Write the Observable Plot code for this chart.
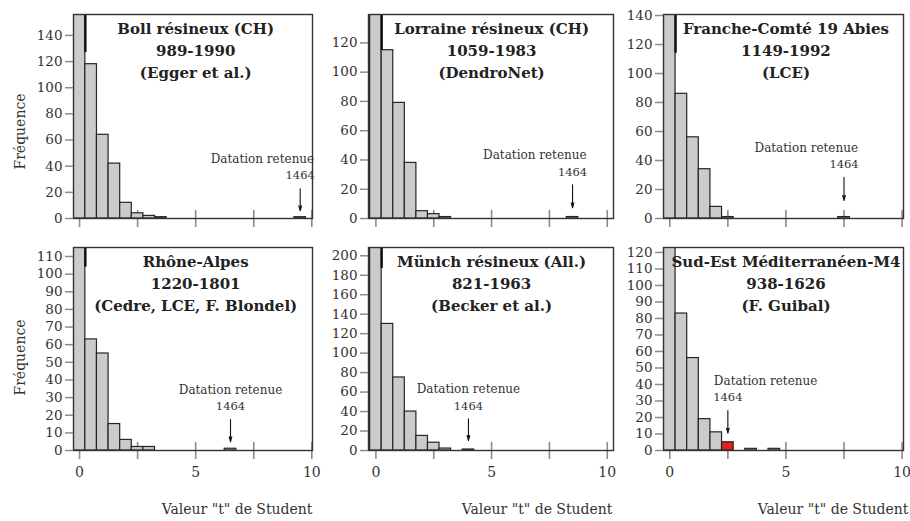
<!DOCTYPE html>
<html><head><meta charset="utf-8">
<script src="https://cdn.jsdelivr.net/npm/d3@7"></script>
<script src="https://cdn.jsdelivr.net/npm/@observablehq/plot@0.6"></script>
<style>
body{margin:0;background:#fff;}
#chart{position:relative;width:910px;height:521px;overflow:hidden;font-family:"DejaVu Serif",serif;}
#chart svg{position:absolute;overflow:visible;}
</style></head><body><div id="chart"></div>
<script>
// ---- data ----
const panelNames = ["Boll résineux (CH)", "Lorraine résineux (CH)", "Franche-Comté 19 Abies", "Rhône-Alpes", "Münich résineux (All.)", "Sud-Est Méditerranéen-M4"];
const panelPeriods = ["989-1990", "1059-1983", "1149-1992", "1220-1801", "821-1963", "938-1626"];
const panelSources = ["(Egger et al.)", "(DendroNet)", "(LCE)", "(Cedre, LCE, F. Blondel)", "(Becker et al.)", "(F. Guibal)"];
// bin centres (Student t), bin width 0.5
const binCenters = [0, 0.5, 1, 1.5, 2, 2.5, 3, 3.5, 4, 4.5, 5, 5.5, 6, 6.5, 7, 7.5, 8, 8.5, 9, 9.5, 10];
const countsBoll      = [390, 118, 64, 42, 12, 4, 2, 1, 0, 0, 0, 0, 0, 0, 0, 0, 0, 0, 0, 1, 0];
const countsLorraine  = [300, 115, 79, 38, 5, 3, 1, 0, 0, 0, 0, 0, 0, 0, 0, 0, 0, 1, 0, 0, 0];
const countsFranche   = [250, 86, 56, 34, 8, 1, 0, 0, 0, 0, 0, 0, 0, 0, 0, 1, 0, 0, 0, 0, 0];
const countsRhone     = [205, 63, 55, 15, 6, 2, 2, 0, 0, 0, 0, 0, 0, 1, 0, 0, 0, 0, 0, 0, 0];
const countsMunich    = [440, 130, 75, 40, 15, 8, 2, 0, 1, 0, 0, 0, 0, 0, 0, 0, 0, 0, 0, 0, 0];
const countsSudEst    = [150, 83, 56, 19, 11, 5, 0, 1, 0, 1, 0, 0, 0, 0, 0, 0, 0, 0, 0, 0, 0];
const allCounts = [countsBoll, countsLorraine, countsFranche, countsRhone, countsMunich, countsSudEst];
// t value of the retained dating (1464) in each panel
const retainedT = [9.5, 8.5, 7.5, 6.5, 4, 2.5];
const retainedLabel = "Datation retenue";
const retainedYear = "1464";
const highlightedPanel = 5; // the retained bar is drawn in red there
// axis ticks
const yTicks = [
  [0, 20, 40, 60, 80, 100, 120, 140],
  [0, 20, 40, 60, 80, 100, 120],
  [0, 20, 40, 60, 80, 100, 120, 140],
  [0, 10, 20, 30, 40, 50, 60, 70, 80, 90, 100, 110],
  [0, 20, 40, 60, 80, 100, 120, 140, 160, 180, 200],
  [0, 10, 20, 30, 40, 50, 60, 70, 80, 90, 100, 110, 120]
];
const xTicks = [0, 2.5, 5, 7.5, 10];
const xTickLabels = [0, 5, 10];
const yLabel = "Fréquence";
const xLabel = 'Valeur "t" de Student';

// ---- layout / annotation config ----
const cols = [
  {left: 0, width: 320, ml: 73, mr: 8, xd: [-0.26, 10.03], xlabDx: 0},
  {left: 320, width: 300, ml: 48, mr: 7, xd: [-0.32, 10.27], xlabDx: -1},
  {left: 620, width: 290, ml: 43, mr: 7, xd: [-0.27, 10.06], xlabDx: 5}
];
const rows = [
  {top: 0, height: 240, mt: 14, mb: 22, ylabDy: 15},
  {top: 240, height: 281, mt: 7, mb: 71, ylabDy: 8.5}
];
const yTop = [156, 139.4, 140.7, 115.1, 208.5, 123];
const arrowFrom = [22.8, 23, 28.4, 17.5, 32.5, 24.2];
const arrowTo = [5.9, 7.3, 12.5, 5, 10.3, 10.5];
const darkEdgeFrom = [127, 115, 114, 104, 187, null];
const labelAlign = ["end", "end", "end", "middle", "middle", "start"];

const FONT = '"DejaVu Serif", serif';
const chart = document.getElementById("chart");

for (let p = 0; p < 6; p++) {
  const r = rows[Math.floor(p / 3)], c = cols[p % 3];
  const isBottom = p >= 3, isLeft = p % 3 === 0;
  const innerH = r.height - r.mt - r.mb;
  const bins = binCenters.map((t, i) => ({t, n: allCounts[p][i], hl: p === highlightedPanel && t === retainedT[p]}));
  const shown = bins.filter(d => d.n > 0);
  const align = labelAlign[p];
  const marks = [
    Plot.ruleX(xTicks, {x: d => d, insetTop: innerH - 8, insetBottom: -9, stroke: "#8c8c8c", strokeWidth: 1.6}),
    Plot.rectY(shown, {x1: d => d.t - 0.25, x2: d => d.t + 0.25, y1: 0, y2: "n",
      fill: d => d.hl ? "#e3201b" : "#cbcbcb", stroke: "#262626", strokeWidth: 1.2, clip: true}),
    darkEdgeFrom[p] != null ? Plot.ruleX([darkEdgeFrom[p]], {x: () => 0.25, y1: d => d, y2: () => yTop[p], stroke: "#111", strokeWidth: 2.4}) : null,
    Plot.frame({stroke: "#333", strokeWidth: 1.4}),
    Plot.axisY(yTicks[p], {tickSize: 8, tickPadding: 3, stroke: "#8c8c8c", strokeWidth: 1.5, fill: "#333", fontSize: 13.5, fontFamily: FONT, label: null}),
    Plot.arrow([retainedT[p]], {x1: d => d, x2: d => d, y1: () => arrowFrom[p], y2: () => arrowTo[p], stroke: "#111", strokeWidth: 1.1, headLength: 7, headAngle: 30}),
    Plot.text([retainedT[p]], {x: d => d, y: () => arrowFrom[p], text: () => retainedYear, dy: -13, fontSize: 11.5, fontFamily: FONT, fill: "#333"}),
    Plot.text([retainedT[p]], {x: d => d, y: () => arrowFrom[p], text: () => retainedLabel, dy: -29.5,
      dx: align === "end" ? 14 : align === "start" ? -14 : 0, textAnchor: align, fontSize: 12, fontFamily: FONT, fill: "#333"}),
    Plot.text([[panelNames[p], panelPeriods[p], panelSources[p]].join("\n")], {x: () => 5, frameAnchor: "top", dy: 34.5, lineAnchor: "middle", lineHeight: 1.45,
      text: d => d, fontWeight: "bold", fontSize: 15, fontFamily: FONT, fill: "#222"})
  ];
  if (isLeft) marks.push(Plot.text([yLabel], {frameAnchor: "left", textAnchor: "middle", rotate: -90, dx: -53, dy: r.ylabDy, text: d => d, fontSize: 14, fontFamily: FONT, fill: "#333"}));
  if (isBottom) {
    marks.push(Plot.axisX(xTickLabels, {tickSize: 0, tickPadding: 17, fill: "#333", fontSize: 14, fontFamily: FONT, label: null}));
    marks.push(Plot.text([xLabel], {frameAnchor: "bottom-right", textAnchor: "end", dy: 63, dx: c.xlabDx, text: d => d, fontSize: 14, fontFamily: FONT, fill: "#333"}));
  }
  const svg = Plot.plot({
    width: c.width, height: r.height,
    marginLeft: c.ml, marginRight: c.mr, marginTop: r.mt, marginBottom: r.mb,
    x: {domain: c.xd, axis: null},
    y: {domain: [0, yTop[p]], axis: null},
    style: {fontFamily: FONT, background: "transparent", color: "#333"},
    marks: marks.filter(Boolean)
  });
  svg.style.left = c.left + "px";
  svg.style.top = r.top + "px";
  chart.appendChild(svg);
}
</script></body></html>
